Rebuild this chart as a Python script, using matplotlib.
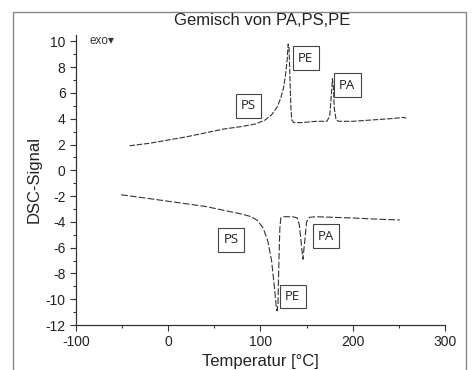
import matplotlib
matplotlib.use("Agg")
import matplotlib.pyplot as plt
from matplotlib.patches import Rectangle
from matplotlib.ticker import MultipleLocator

plt.rcParams["font.family"] = ["Liberation Sans", "DejaVu Sans"]
plt.rcParams["axes.unicode_minus"] = False

# Heizkurve (oben), gelesen aus dem Bild
temp_heat = [-42, -20, 0, 20, 40, 60, 80, 95, 105, 112, 118, 122, 125, 127, 129,
             130, 131, 132, 133, 134, 136, 145, 160, 172, 175, 177, 178, 179, 180,
             182, 185, 200, 220, 240, 255, 258]
dsc_heat = [1.9, 2.1, 2.35, 2.6, 2.9, 3.2, 3.4, 3.6, 3.9, 4.3, 4.9, 5.6, 6.4, 7.3, 8.6,
            9.8, 9.5, 7.0, 4.8, 3.9, 3.7, 3.7, 3.8, 3.8, 4.2, 6.0, 7.1, 6.5, 4.8,
            3.9, 3.8, 3.8, 3.9, 4.0, 4.1, 4.05]

# Kühlkurve (unten)
temp_cool = [-51, -20, 0, 20, 40, 60, 80, 90, 97, 103, 108, 112, 115, 117, 118,
             119, 120, 121, 122, 125, 135, 140, 142, 144, 146, 148, 150, 153, 160,
             180, 200, 230, 251]
dsc_cool = [-1.9, -2.2, -2.4, -2.6, -2.8, -3.1, -3.4, -3.6, -3.9, -4.5, -5.5, -7.0, -9.0,
            -10.5, -10.9, -10.3, -7.0, -4.5, -3.7, -3.6, -3.6, -3.7, -4.2, -5.5, -6.9,
            -5.5, -4.0, -3.65, -3.6, -3.65, -3.7, -3.8, -3.85]

# Beschriftungen der Peaks
labels = ["PS", "PE", "PA", "PS", "PA", "PE"]
label_x = [87, 149, 194, 68, 171, 135]
label_y = [5.0, 8.7, 6.6, -5.4, -5.1, -9.8]

fig = plt.figure(figsize=(4.73, 3.70), dpi=100)
ax = fig.add_axes([0.1607, 0.1216, 0.780, 0.784])

ax.plot(temp_heat, dsc_heat, color="#333333", lw=0.8, ls=(0, (5, 1.5)))
ax.plot(temp_cool, dsc_cool, color="#333333", lw=0.8, ls=(0, (6, 2)))

for t, x, y in zip(labels, label_x, label_y):
    ax.text(x, y, t, ha="center", va="center", fontsize=9.5, family="Open Sans",
            color="#222222",
            bbox=dict(boxstyle="square,pad=0.4", fc="white", ec="#444444", lw=0.8))

ax.text(-85, 10, "exo\u25be", fontsize=8.5, va="center", ha="left", color="#333333",
        family=["Liberation Sans", "DejaVu Sans"])

ax.set_xlim(-100, 300)
ax.set_ylim(-12, 10.5)
ax.xaxis.set_major_locator(MultipleLocator(100))
ax.xaxis.set_minor_locator(MultipleLocator(50))
ax.yaxis.set_major_locator(MultipleLocator(2))
ax.yaxis.set_minor_locator(MultipleLocator(1))
ax.tick_params(which="both", direction="out", color="#333333", width=0.8)
ax.tick_params(which="major", length=4, labelsize=10, labelcolor="#222222")
ax.tick_params(which="minor", length=2.5)
for s in ["top", "right"]:
    ax.spines[s].set_visible(False)
for s in ["left", "bottom"]:
    ax.spines[s].set_color("#333333")
    ax.spines[s].set_linewidth(0.9)

ax.set_xlabel("Temperatur [\u00b0C]", fontsize=12, color="#222222", labelpad=3)
ax.set_ylabel("DSC-Signal", fontsize=12, color="#222222", labelpad=3)
fig.text(0.555, 0.945, "Gemisch von PA,PS,PE", ha="center", va="center",
         fontsize=12, color="#222222")

fig.patches.append(Rectangle((0.0275, -0.05), 0.9575, 1.018, transform=fig.transFigure,
                             fill=False, ec="#888888", lw=1.0))

fig.savefig("out.png", dpi=100)
